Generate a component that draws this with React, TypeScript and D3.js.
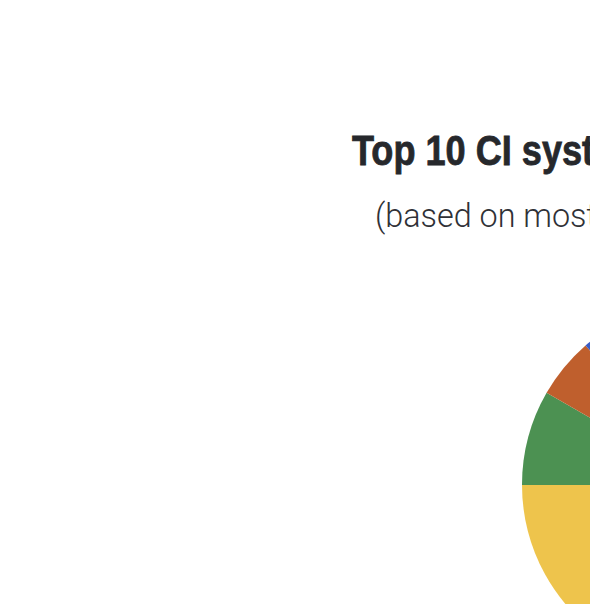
import React from 'react';
import * as d3 from 'd3';

// chart data (only part of the pie is visible in the frame)
const systems = ['Travis CI', 'GitHub Actions', 'CircleCI', 'AppVeyor', 'Azure Pipelines', 'GitLab CI', 'Jenkins', 'Drone', 'Buildkite', 'Semaphore'];
const shares = [38, 21, 16, 8.3, 5.3, 4.2, 3.0, 2.0, 1.3, 0.9];
const colors = ['#d9453a', '#8e5bb0', '#eec44c', '#4c9152', '#bf5f2d', '#3a5cc4', '#7a7a7a', '#2aa3a3', '#a54c8c', '#6b8e23'];

const titleText = 'Top 10 CI systems used by GitHub projects';
const subtitleText = '(based on most popular repositories)';

const W = 590;
const H = 604;

const App = () => {
	const cx = 707;
	const cy = 485;
	const r = 185;

	const pie = d3.pie<number>().sort(null).value(d => d);
	const arcs = pie(shares);
	const arc = d3.arc<d3.PieArcDatum<number>>().innerRadius(0).outerRadius(r);

	return (
		<svg width={W} height={H} style={{ position: 'absolute', left: 0, top: 0, background: '#fff' }}>
			<rect width={W} height={H} fill="#fff" />
			<text transform="translate(352,165) scale(0.86,1)" fontFamily="Liberation Sans, Arial, sans-serif"
				fontWeight="bold" fontSize={42} fill="#26282c" stroke="#26282c" strokeWidth={0.8}>{titleText}</text>
			<text transform="translate(375,227) scale(0.98,1)" fontFamily="Roboto, sans-serif"
				fontWeight={300} fontSize={33} fill="#2f3136">{subtitleText}</text>
			<g transform={`translate(${cx},${cy})`}>
				{arcs.map((a, i) => (
					<path key={systems[i]} d={arc(a) || ''} fill={colors[i]} />
				))}
			</g>
		</svg>
	);
};

export default App;
